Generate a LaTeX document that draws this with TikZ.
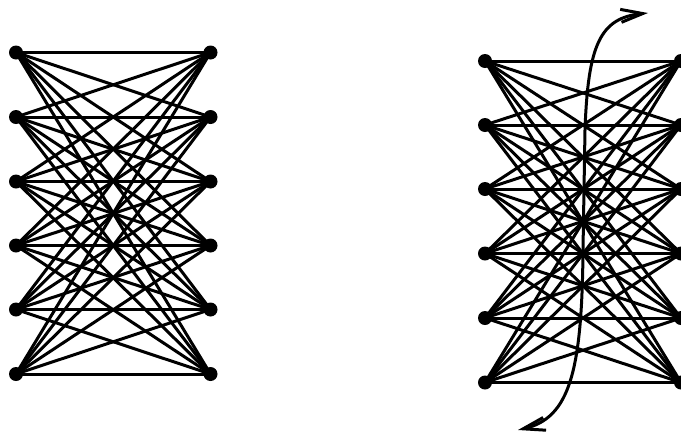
\documentclass[tikz,border=0pt]{standalone}
\usetikzlibrary{arrows.meta}
\begin{document}
\begin{tikzpicture}[x=1pt,y=-1pt,
  vtx/.style={circle,fill=black,inner sep=0pt,minimum size=14pt},
  edge/.style={line width=3pt,black},
  flow/.style={line width=3pt,black,{Straight Barb[length=22pt,width=13pt,line width=3pt]}-{Straight Barb[length=22pt,width=13pt,line width=3pt]}}]
\useasboundingbox (0,0) rectangle (681,432);
% left graph
\foreach \i/\y in {1/52.5,2/117,3/181.5,4/245.5,5/309.5,6/374}{
  \node[vtx] (a\i) at (16,\y) {};
  \node[vtx] (b\i) at (210.5,\y) {};
}
\foreach \i in {1,...,6}{\foreach \j in {1,...,6}{\draw[edge] (a\i.center) -- (b\j.center);}}
% right graph
\foreach \i/\y in {1/61,2/125,3/189,4/253.5,5/318,6/382.5}{
  \node[vtx] (c\i) at (485,\y) {};
  \node[vtx] (d\i) at (681,\y) {};
}
\foreach \i in {1,...,6}{\foreach \j in {1,...,6}{\draw[edge] (c\i.center) -- (d\j.center);}}
% curve
\coordinate (s) at (518,430);
\coordinate (m1) at (583,250);
\coordinate (m2) at (585,130);
\coordinate (t) at (648,13);
\draw[flow] (s) .. controls (570,418) and (582,370) .. (m1) -- (m2) .. controls (588,45) and (600,18) .. (t);
\end{tikzpicture}
\end{document}
